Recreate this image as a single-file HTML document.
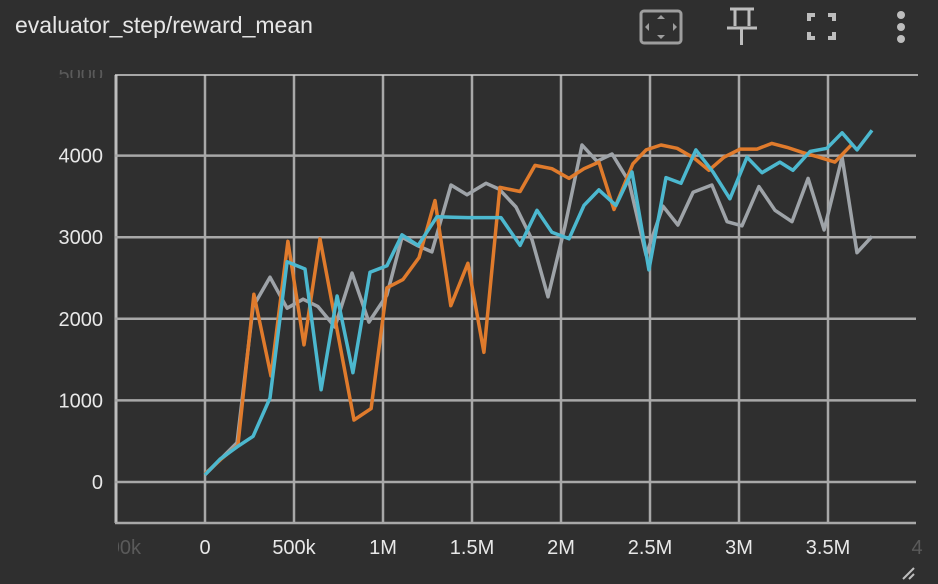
<!DOCTYPE html>
<html><head><meta charset="utf-8"><style>
html,body{margin:0;padding:0;background:#2f2f2f;width:938px;height:584px;overflow:hidden;font-family:"Liberation Sans",sans-serif}
#title{position:absolute;left:15px;top:12px;font-size:23px;color:#e6e6e6}
svg{position:absolute;left:0;top:0}
</style></head><body>
<div id="title">evaluator_step/reward_mean</div>
<svg id="chart" width="938" height="584">
  <defs>
    <clipPath id="clipL"><rect x="118" y="520" width="100" height="60"/></clipPath>
    <clipPath id="clipT"><rect x="40" y="70" width="80" height="8"/></clipPath>
  </defs>
  <g fill="none" stroke="#9e9e9e">
    <rect x="641" y="11" width="40" height="32" rx="3" stroke-width="3"/>
    <polygon points="661,15 657,19 665,19" fill="#9e9e9e" stroke="none"/>
    <polygon points="661,39 657,35 665,35" fill="#9e9e9e" stroke="none"/>
    <polygon points="645,27 649,23 649,31" fill="#9e9e9e" stroke="none"/>
    <polygon points="677,27 673,23 673,31" fill="#9e9e9e" stroke="none"/>
  </g>
  <g fill="none" stroke="#bdbdbd" stroke-width="3">
    <line x1="730" y1="9" x2="754" y2="9"/>
    <polyline points="735,9 735,26"/><polyline points="749,9 749,26"/>
    <line x1="727" y1="28" x2="757" y2="28"/>
    <line x1="741.5" y1="28" x2="741.5" y2="45"/>
  </g>
  <g fill="none" stroke="#bdbdbd" stroke-width="4">
    <polyline points="809,21 809,15 815,15"/><polyline points="828,15 834,15 834,21"/>
    <polyline points="809,32 809,38 815,38"/><polyline points="828,38 834,38 834,32"/>
  </g>
  <g fill="#bdbdbd">
    <circle cx="901" cy="15" r="4"/><circle cx="901" cy="27" r="4"/><circle cx="901" cy="39" r="4"/>
  </g>
  <g id="grid"></g>
  <g id="series"></g>
  <g id="labels"></g>
  <g stroke="#bdbdbd" stroke-width="2">
    <line x1="903" y1="579" x2="914" y2="568"/><line x1="909" y1="579" x2="914" y2="574"/>
  </g>
</svg>
<script>
const xTicks=[-500000,0,500000,1000000,1500000,2000000,2500000,3000000,3500000,4000000];
const xTickLabels=["-500k","0","500k","1M","1.5M","2M","2.5M","3M","3.5M","4"];
const yTicks=[0,1000,2000,3000,4000,5000];
const yTickLabels=["0","1000","2000","3000","4000","5000"];
// steps in thousands
const orangeSteps=[0,90,185,275,371,466,556,646,837,933,1022,1112,1202,1292,1381,1477,1567,1657,1770,1854,1949,2045,2129,2213,2298,2404,2478,2562,2652,2747,2831,2916,3006,3101,3185,3270,3354,3449,3539,3635];
const orangeValues=[100,280,450,2300,1300,2950,1680,2980,760,900,2380,2480,2750,3450,2160,2680,1590,3610,3560,3880,3840,3720,3840,3920,3340,3900,4070,4130,4090,3970,3820,3980,4080,4080,4150,4100,4040,3980,3920,4140];
const cyanSteps=[0,84,180,270,365,461,562,652,742,831,927,1022,1107,1197,1303,1393,1477,1663,1770,1865,1949,2045,2129,2213,2309,2399,2494,2590,2674,2758,2854,2949,3045,3129,3230,3303,3399,3494,3579,3663,3747];
const cyanValues=[90,280,430,560,1030,2700,2610,1130,2280,1340,2570,2650,3030,2900,3250,3245,3240,3240,2900,3330,3060,2980,3390,3580,3390,3800,2600,3730,3660,4070,3800,3470,3980,3790,3920,3820,4050,4090,4280,4070,4310];
const graySteps=[0,180,270,365,461,551,635,730,826,921,1022,1107,1191,1275,1382,1472,1579,1652,1747,1837,1927,2022,2118,2202,2287,2382,2478,2573,2657,2742,2848,2933,3017,3112,3202,3298,3388,3478,3579,3663,3747];
const grayValues=[90,480,2150,2510,2130,2240,2150,1900,2560,1960,2290,3000,2900,2820,3640,3520,3660,3590,3370,2970,2270,3130,4130,3930,4020,3680,2780,3380,3150,3550,3640,3190,3140,3620,3330,3190,3720,3090,3980,2810,3010];
const NS='http://www.w3.org/2000/svg';
const L=115,R=916,T=75,B=523;
function xs(v){return 205+v*178/1e6;}
function ys(v){return 482-v*0.0816;}
function mk(tag,attrs,parent){const e=document.createElementNS(NS,tag);for(const k in attrs)e.setAttribute(k,attrs[k]);parent.appendChild(e);return e;}
const grid=document.getElementById('grid'),labels=document.getElementById('labels'),series=document.getElementById('series');
xTicks.forEach((t,i)=>{const x=xs(t);
  if(x<R){const l=mk('line',{x1:x,x2:x,y1:T,y2:B,stroke:i===0?'#bdbdbd':'#a8a8a8','stroke-width':i===0?3:2.5},grid);
  
  }
  const faded=(i===0||i===xTicks.length-1);
  const tx=mk('text',{x:x,y:554,'text-anchor':'middle','font-size':20,fill:faded?'#5a5a5a':'#e8e8e8','font-family':'Liberation Sans, sans-serif'},labels);
  tx.textContent=xTickLabels[i];
  
  
  if(i===0)tx.setAttribute('clip-path','url(#clipL)');
});
yTicks.forEach((t,i)=>{const y=ys(t);
  if(i<yTicks.length-1){const l=mk('line',{x1:L,x2:R,y1:y,y2:y,stroke:'#a8a8a8','stroke-width':2.5},grid);
  
  }
  const faded=i===yTicks.length-1;
  const tx=mk('text',{x:103,y:y+7,'text-anchor':'end','font-size':20,fill:faded?'#5a5a5a':'#e8e8e8','font-family':'Liberation Sans, sans-serif'},labels);
  tx.textContent=yTickLabels[i];
  
  
  if(faded)tx.setAttribute('clip-path','url(#clipT)');
});
const topLine=mk('line',{x1:L,x2:R+2,y1:T,y2:T,stroke:'#cfcfcf','stroke-width':1.5},grid);


const botLine=mk('line',{x1:L,x2:R,y1:B,y2:B,stroke:'#a8a8a8','stroke-width':2.5},grid);


function draw(steps,vals,color,name){
  const pts=steps.map((s,i)=>xs(s*1000).toFixed(1)+','+ys(vals[i]).toFixed(1)).join(' ');
  const p=mk('polyline',{points:pts,fill:'none',stroke:color,'stroke-width':3.5,'stroke-linejoin':'round'},series);
  
  
}
draw(graySteps,grayValues,'#9ea3a8','series-gray');
draw(orangeSteps,orangeValues,'#e07b2c','series-orange');
draw(cyanSteps,cyanValues,'#4cb8cf','series-cyan');
</script>
</body></html>
